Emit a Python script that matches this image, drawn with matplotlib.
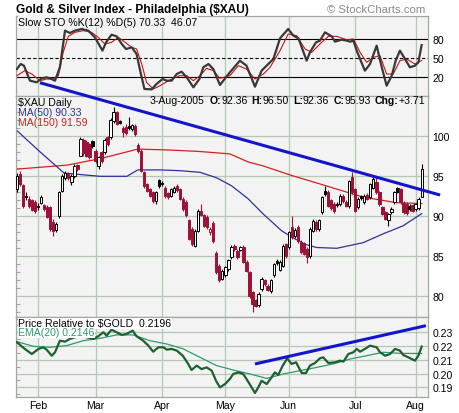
import matplotlib
matplotlib.use("Agg")
import matplotlib.pyplot as plt
from matplotlib.patches import Rectangle
from matplotlib.ticker import MultipleLocator, FixedLocator

plt.rcParams['font.family'] = ['Liberation Sans', 'DejaVu Sans']

# ---------------- data ----------------
month_labels = ['Feb', 'Mar', 'Apr', 'May', 'Jun', 'Jul', 'Aug']
month_days = [7, 26, 48, 69, 90, 112, 132]   # trading-day index of month start

opens = [93.4, 95.3, 93.9, 92.5, 92.2, 92.0, 91.8, 91.2, 91.7, 91.4,
         91.1, 91.1, 89.3, 88.3, 90.0, 93.2, 94.8, 95.4, 94.3, 95.0,
         96.4, 97.6, 99.6, 99.3, 99.0, 99.4, 98.2, 96.3, 98.0, 98.0,
         99.9, 99.9, 101.9, 103.0, 101.9, 101.1, 101.2, 101.3, 100.9, 101.3,
         98.9, 98.2, 95.5, 94.0, 93.4, 93.0, 91.9, 94.5, 94.2, 93.6,
         92.9, 92.6, 93.1, 93.8, 93.4, 92.2, 91.8, 89.5, 88.4, 86.3,
         88.2, 90.7, 90.1, 89.9, 88.0, 89.2, 85.4, 83.8, 82.2, 82.6,
         83.4, 84.9, 86.3, 85.7, 85.8, 86.2, 84.3, 83.0, 80.5, 79.5,
         78.9, 80.9, 82.0, 81.3, 80.6, 82.6, 84.4, 83.3, 83.8, 86.5,
         86.1, 88.6, 87.5, 88.7, 86.8, 86.6, 85.9, 85.0, 88.2, 89.3,
         88.4, 90.5, 93.2, 93.1, 92.0, 91.6, 91.6, 91.5, 92.6, 91.8,
         91.3, 94.9, 93.4, 91.1, 92.5, 91.8, 92.7, 92.4, 93.6, 94.3,
         93.0, 91.1, 90.5, 89.5, 90.5, 91.8, 93.5, 93.4, 91.7, 91.6,
         91.3, 91.4, 90.9, 91.0, 92.36]
highs = [95.4, 95.7, 94.1, 93.0, 92.5, 92.2, 92.0, 91.7, 92.7, 91.6,
         91.4, 91.3, 89.6, 89.3, 93.2, 95.3, 95.7, 95.6, 95.3, 96.5,
         96.6, 99.9, 99.8, 99.5, 99.2, 99.6, 98.4, 97.6, 98.2, 99.8,
         100.1, 102.3, 103.7, 103.2, 102.1, 101.3, 101.5, 102.4, 101.6, 101.5,
         99.2, 98.4, 95.7, 94.2, 93.6, 93.2, 93.2, 94.7, 94.4, 93.8,
         93.1, 93.6, 93.8, 94.0, 93.6, 92.4, 92.0, 89.7, 88.6, 88.4,
         90.9, 91.5, 90.3, 90.1, 88.6, 89.4, 85.6, 84.0, 83.4, 83.8,
         84.7, 86.4, 86.5, 85.9, 86.3, 86.4, 84.5, 83.2, 80.7, 79.7,
         80.5, 82.4, 82.2, 81.5, 82.2, 84.2, 84.6, 84.5, 86.5, 86.7,
         88.2, 90.0, 88.5, 88.9, 87.0, 86.8, 86.1, 88.6, 89.6, 89.5,
         89.7, 92.6, 93.8, 93.3, 92.2, 91.8, 91.8, 92.8, 92.8, 92.0,
         94.6, 95.5, 93.6, 92.4, 92.7, 92.8, 92.9, 94.2, 95.0, 94.9,
         93.2, 91.3, 90.7, 90.4, 91.1, 93.2, 93.7, 93.6, 91.9, 91.8,
         91.5, 91.6, 91.7, 92.4, 96.50]
lows = [93.0, 93.8, 91.0, 92.0, 91.0, 90.6, 90.4, 90.8, 91.5, 90.7,
        89.8, 88.2, 87.5, 88.0, 89.8, 93.0, 94.5, 94.5, 93.9, 94.8,
        95.7, 97.5, 97.5, 97.4, 97.2, 98.6, 96.7, 95.9, 96.7, 97.8,
        98.8, 99.7, 101.7, 101.4, 101.5, 99.9, 100.2, 100.8, 100.7, 100.1,
        97.9, 95.5, 93.6, 93.0, 92.4, 91.7, 91.6, 93.6, 93.8, 92.3,
        92.2, 92.4, 92.9, 93.1, 92.0, 90.7, 89.9, 87.0, 86.3, 86.1,
        88.0, 90.0, 88.6, 88.4, 87.7, 86.7, 82.8, 81.8, 82.0, 82.4,
        83.2, 84.7, 85.7, 84.7, 85.6, 84.1, 83.0, 79.8, 78.0, 78.6,
        78.7, 80.7, 81.3, 80.6, 80.4, 82.4, 83.9, 83.1, 83.6, 84.8,
        85.9, 87.2, 87.3, 86.7, 85.3, 85.1, 84.2, 84.8, 88.0, 88.2,
        88.2, 90.3, 92.5, 91.1, 90.8, 90.4, 91.2, 91.3, 91.7, 91.1,
        91.0, 92.8, 90.5, 90.9, 92.1, 91.6, 92.0, 92.2, 93.4, 92.8,
        91.3, 90.1, 89.5, 88.8, 90.3, 91.6, 92.9, 91.6, 90.3, 90.2,
        90.7, 90.5, 90.7, 90.8, 92.36]
closes = [95.0, 94.0, 91.3, 92.4, 91.3, 90.8, 90.6, 91.3, 92.4, 90.9,
          89.9, 88.4, 88.2, 89.0, 93.0, 95.0, 95.4, 94.8, 95.1, 96.3,
          95.9, 99.7, 97.9, 97.6, 97.4, 98.8, 96.9, 97.4, 96.9, 99.6,
          99.0, 102.1, 103.0, 101.6, 101.7, 100.5, 100.4, 101.0, 101.4, 100.3,
          98.2, 95.7, 93.8, 93.2, 92.6, 91.9, 93.0, 93.8, 94.0, 92.5,
          92.4, 93.4, 93.6, 93.3, 92.2, 90.9, 90.1, 87.2, 86.5, 88.2,
          90.7, 90.2, 88.8, 88.6, 88.4, 86.9, 83.0, 82.0, 83.2, 83.6,
          84.5, 86.2, 85.9, 84.9, 86.1, 84.3, 83.2, 80.0, 79.0, 78.8,
          80.3, 82.2, 81.5, 80.8, 82.0, 84.0, 84.1, 84.3, 86.3, 85.0,
          88.0, 87.4, 88.3, 86.9, 85.5, 85.3, 84.9, 88.4, 89.4, 88.4,
          89.5, 92.4, 92.8, 91.3, 91.0, 90.6, 91.4, 92.6, 91.9, 91.3,
          94.4, 93.0, 90.7, 92.2, 92.3, 92.6, 92.2, 94.0, 94.7, 93.0,
          91.5, 90.3, 89.7, 90.3, 90.9, 93.0, 93.1, 91.8, 90.5, 90.4,
          90.9, 90.7, 91.5, 92.22, 95.93]

ma50_days = [0, 7.8, 15.6, 27.5, 36.4, 40, 47.4, 54, 60.6, 66.2, 71.1,
             76.5, 81.5, 87.6, 91, 95.4, 99.2, 105.9, 114.6, 121.2, 127.8, 134]
ma50_vals = [100.7, 98.0, 95.4, 95.0, 95.0, 95.8, 95.8, 95.7, 95.5, 94.8, 93.8,
             92.2, 90.3, 88.2, 87.4, 86.5, 86.1, 86.0, 86.7, 87.8, 88.8, 90.33]
ma150_days = [0, 16.6, 27.5, 40, 49.7, 60.6, 70.5, 76.5, 81.5, 91, 100.7,
              114.6, 125.7, 134]
ma150_vals = [95.9, 96.4, 97.2, 98.4, 98.3, 98.1, 97.8, 96.8, 96.3, 95.1, 94.0,
              92.4, 91.7, 91.59]
trend_days = [7.6, 140.1]
trend_vals = [106.7, 92.66]

sto_k_days = [0, 1.2, 2.3, 4.3, 6.5, 8.2, 9.8, 10.9, 12.6, 14.2,
              15.9, 17.5, 19.2, 21.4, 23.6, 25.8, 28.3, 29.5, 31.3, 33.0,
              34.7, 36.1, 38.0, 39.6, 40.9, 42.2, 44.6, 46.2, 48.2, 49.6,
              51.2, 52.9, 54.5, 56.2, 58.4, 60.4, 61.7, 63.4, 65.0, 67.2,
              70.5, 73.8, 76.0, 78.8, 81.0, 83.2, 84.9, 87.1, 89.8, 91.5,
              93.2, 95.9, 97.0, 99.0, 100.3, 102.0, 104.2, 105.3, 107.5, 109.2,
              110.3, 111.4, 112.5, 113.6, 115.2, 116.9, 119.1, 120.8, 122.4, 124.1,
              125.4, 126.8, 128.5, 130.1, 131.8, 132.9, 134]
sto_k_vals = [32.6, 40.5, 37.9, 14.2, 11.6, 17.9, 19.5, 17.9, 14.2, 35.3,
              93.2, 89.5, 93.2, 95.8, 93.2, 82.6, 61.6, 74.7, 86.8, 84.2,
              72.1, 64.2, 66.8, 56.3, 27.4, 1.1, 0.5, 9.0, 16.8, 14.2,
              14.2, 24.7, 28.4, 19.5, 3.7, 16.8, 35.3, 40.5, 32.6, 7.4,
              27.4, 45.8, 37.9, 4.7, 30.0, 40.5, 48.4, 81.1, 95.8, 85.3,
              81.1, 45.8, 58.9, 74.7, 77.4, 90.5, 84.2, 75.8, 78.9, 77.4,
              75.8, 77.4, 61.6, 48.4, 30.0, 40.5, 69.5, 35.3, 6.3, 22.1,
              45.8, 61.6, 48.4, 35.3, 37.9, 43.2, 70.33]
sto_d_days = [0, 2.6, 4.9, 7.6, 9.8, 12.0, 13.7, 15.3, 17.0, 19.2,
              22.0, 24.7, 26.9, 29.1, 31.3, 33.6, 35.8, 38.0, 39.6, 41.3,
              42.9, 45.1, 47.4, 49.6, 51.8, 54.0, 56.2, 58.4, 60.6, 62.8,
              65.0, 67.2, 70.5, 73.3, 76.0, 78.8, 81.6, 83.8, 87.1, 89.8,
              92.6, 95.4, 97.6, 100.3, 103.1, 105.8, 109.2, 111.4, 113.6, 115.8,
              118.0, 120.2, 122.4, 124.6, 126.8, 129.0, 131.8, 134]
sto_d_vals = [22.1, 30.0, 24.7, 14.2, 16.8, 16.8, 22.1, 58.9, 84.2, 90.5,
              93.2, 90.5, 82.6, 72.1, 74.7, 82.6, 74.7, 66.8, 64.2, 40.5,
              11.6, 1.1, 6.3, 12.6, 17.9, 22.1, 22.1, 14.2, 22.1, 33.7,
              30.0, 17.9, 22.1, 37.9, 32.6, 16.8, 24.7, 35.3, 61.6, 87.9,
              85.3, 64.2, 58.9, 72.1, 84.2, 84.2, 78.9, 80.0, 58.9, 43.2,
              51.1, 53.7, 24.7, 24.7, 45.8, 48.4, 40.5, 46.07]

rel_days = [0, 2.6, 4.9, 7.1, 8.7, 9.8, 11.5, 12.6, 14.2, 15.9,
            17.5, 19.2, 21.0, 23.1, 25.3, 26.9, 28.6, 29.7, 31.3, 33.0,
            34.7, 36.3, 38.3, 39.6, 41.8, 43.5, 45.1, 46.8, 48.5, 49.6,
            51.2, 52.9, 54.9, 56.7, 57.8, 59.5, 61.1, 62.8, 64.5, 65.9,
            67.2, 68.9, 70.5, 71.6, 73.3, 74.9, 76.0, 77.7, 78.8, 79.9,
            81.0, 82.7, 84.3, 85.4, 86.5, 88.0, 89.5, 90.9, 92.4, 94.3,
            95.7, 97.0, 98.7, 100.3, 101.4, 103.1, 105.3, 107.0, 108.1, 109.7,
            111.4, 112.5, 113.6, 115.2, 116.9, 119.1, 120.2, 121.9, 123.5, 125.2,
            126.8, 127.9, 129.6, 131.8, 132.9, 134]
rel_vals = [0.2227, 0.2179, 0.2142, 0.2179, 0.2191, 0.2174, 0.2130, 0.2155, 0.2239, 0.2232,
            0.2252, 0.2264, 0.2271, 0.2264, 0.2252, 0.2271, 0.2300, 0.2276, 0.2319, 0.2300,
            0.2281, 0.2288, 0.2312, 0.2271, 0.2239, 0.2203, 0.2159, 0.2191, 0.2191, 0.2174,
            0.2179, 0.2167, 0.2130, 0.2070, 0.2026, 0.2058, 0.2033, 0.2045, 0.2021, 0.1948,
            0.1900, 0.1924, 0.1961, 0.1997, 0.2009, 0.1997, 0.1961, 0.1900, 0.1859, 0.1900,
            0.1948, 0.1924, 0.1973, 0.2009, 0.1990, 0.2058, 0.2111, 0.2070, 0.2082, 0.2004,
            0.2004, 0.2058, 0.2077, 0.2111, 0.2118, 0.2077, 0.2082, 0.2094, 0.2087, 0.2142,
            0.2155, 0.2179, 0.2159, 0.2179, 0.2203, 0.2191, 0.2155, 0.2130, 0.2142, 0.2179,
            0.2167, 0.2135, 0.2118, 0.2094, 0.2130, 0.2196]
ema_days = [0, 5.4, 10.9, 16.4, 22.0, 27.5, 33.0, 38.5, 44.0, 49.6, 55.1, 60.6, 66.1,
            71.6, 77.2, 82.7, 88.2, 93.7, 99.2, 104.7, 110.3, 115.8, 121.3, 126.8, 134]
ema_vals = [0.2232, 0.2198, 0.2191, 0.2203, 0.2239, 0.2256, 0.2281, 0.2281, 0.2239, 0.2215,
            0.2179, 0.2118, 0.2058, 0.2026, 0.1997, 0.1965, 0.1997, 0.2021, 0.2045, 0.2070,
            0.2106, 0.2130, 0.2155, 0.2147, 0.2146]
rel_trend_days = [78.8, 135.4]
rel_trend_vals = [0.2070, 0.2348]

price_ticks = [80, 85, 90, 95, 100]
sto_ticks = [20, 50, 80]
rel_ticks = [0.19, 0.20, 0.21, 0.22, 0.23]

# ---------------- styling ----------------
W, H = 460, 414
BG = '#f3f3f3'
GRID = '#b4c8b4'
SPINE = '#a0a8a0'
CRED = '#9e1238'
FS = 7.6

fig = plt.figure(figsize=(W / 100, H / 100), dpi=100)
fig.patch.set_facecolor('white')


def px_axes(left, top, right, bottom):
    return fig.add_axes([left / W, 1 - bottom / H, (right - left) / W, (bottom - top) / H])


ax_sto = px_axes(16, 17, 428, 97)
ax_main = px_axes(16, 97, 428, 318)
ax_rel = px_axes(16, 318, 428, 398)

for ax in (ax_sto, ax_main, ax_rel):
    ax.set_facecolor(BG)
    ax.set_xlim(-0.33, 136.1)
    for s in ax.spines.values():
        s.set_color(SPINE)
        s.set_linewidth(0.9)
    for d in month_days:
        ax.axvline(d, color=GRID, lw=0.9, zorder=0.5)
    ax.tick_params(axis='x', which='both', length=0, labelbottom=False)
    ax.yaxis.tick_right()
    ax.tick_params(axis='y', which='major', labelsize=FS, pad=3, length=0, labelright=True)

# ---- STO panel
ax_sto.set_ylim(-10.0, 116.3)
ax_sto.yaxis.set_major_locator(FixedLocator(sto_ticks))
ax_sto.set_yticklabels([str(t) for t in sto_ticks])
ax_sto.axhline(80, color='black', lw=0.8, zorder=1)
ax_sto.axhline(20, color='black', lw=0.8, zorder=1)
ax_sto.axhline(50, color='black', lw=0.8, ls=(0, (3, 2)), zorder=1)
ax_sto.plot(sto_d_days, sto_d_vals, color='#d01010', lw=0.8, zorder=3)
ax_sto.plot(sto_k_days, sto_k_vals, color='#383838', lw=1.6, zorder=4)
ax_sto.text(0.006, 0.99, 'Slow STO %K(12) %D(5) 70.33  46.07', transform=ax_sto.transAxes,
            ha='left', va='top', fontsize=FS, color='black', zorder=6,
            bbox=dict(facecolor=BG, edgecolor='none', pad=0.3))

# ---- main panel
ax_main.set_ylim(77.41, 105.04)
ax_main.yaxis.set_major_locator(FixedLocator(price_ticks))
ax_main.set_yticklabels([str(t) for t in price_ticks])
ax_main.yaxis.set_minor_locator(MultipleLocator(1))
ax_main.tick_params(axis='y', which='minor', left=True, right=False, direction='in',
                    length=3, color=SPINE, width=0.8)
for t in price_ticks:
    ax_main.axhline(t, color=GRID, lw=0.9, zorder=0.5)

ax_main.plot(ma150_days, ma150_vals, color='#d42020', lw=0.9, zorder=2)
ax_main.plot(ma50_days, ma50_vals, color='#30309a', lw=0.9, zorder=2)

prev = None
for i, (o, h, l, c) in enumerate(zip(opens, highs, lows, closes)):
    col = 'black' if (prev is None or c >= prev) else CRED
    hollow = c >= o
    ax_main.vlines(i, l, h, color=col, lw=0.8, zorder=3)
    bot = min(o, c)
    hgt = max(abs(c - o), 0.08)
    ax_main.add_patch(Rectangle((i - 0.38, bot), 0.76, hgt,
                                facecolor=('white' if hollow else col), edgecolor=col,
                                lw=0.7, zorder=4))
    prev = c

ax_main.plot(trend_days, trend_vals, color='#1414cc', lw=2.2, zorder=10,
             clip_on=False, solid_capstyle='butt')

lbl = dict(transform=ax_main.transAxes, ha='left', va='top', fontsize=FS, zorder=8)
ax_main.text(0.006, 0.995, '$XAU Daily', color='black', **lbl)
ax_main.text(0.006, 0.95, 'MA(50) 90.33', color='#30309a', **lbl)
ax_main.text(0.006, 0.905, 'MA(150) 91.59', color='#d42020', **lbl)

# ---- relative panel
ax_rel.set_ylim(0.1830, 0.2411)
ax_rel.yaxis.set_major_locator(FixedLocator(rel_ticks))
ax_rel.set_yticklabels(['%.2f' % t for t in rel_ticks])
ax_rel.yaxis.set_minor_locator(MultipleLocator(0.005))
ax_rel.tick_params(axis='y', which='minor', left=True, right=False, direction='in',
                   length=3, color=SPINE, width=0.8)
for t in rel_ticks:
    ax_rel.axhline(t, color=GRID, lw=0.9, zorder=0.5)
ax_rel.plot(ema_days, ema_vals, color='#2e9a70', lw=0.9, zorder=3)
ax_rel.plot(rel_days, rel_vals, color='#1e6030', lw=1.6, zorder=4)
ax_rel.plot(rel_trend_days, rel_trend_vals, color='#1414cc', lw=2.2, zorder=10,
            clip_on=False, solid_capstyle='butt')
ax_rel.text(0.006, 0.985, 'Price Relative to $GOLD  0.2196', transform=ax_rel.transAxes,
            ha='left', va='top', fontsize=FS, color='black', zorder=8,
            bbox=dict(facecolor='white', edgecolor='none', pad=0.2))
ax_rel.text(0.006, 0.87, 'EMA(20) 0.2146', transform=ax_rel.transAxes,
            ha='left', va='top', fontsize=FS, color='#2e9a70', zorder=8,
            bbox=dict(facecolor='white', edgecolor='none', pad=0.2))

ax_rel.set_xticks(month_days)
ax_rel.set_xticklabels(month_labels)
ax_rel.tick_params(axis='x', which='major', labelbottom=True, labelsize=FS, pad=2.5, length=0)

# ---- titles
fig.text(16 / W, 1 - 10 / H, 'Gold & Silver Index - Philadelphia ($XAU)', ha='left',
         va='center', fontsize=8.6, fontweight='bold', color='black')
fig.text(425 / W, 1 - 10 / H, '\u00a9 StockCharts.com', ha='right', va='center',
         fontsize=8.2, color='#8a8a8a')

# date header with bold keys, right aligned at x=425 px
pieces = [('3-Aug-2005', 'normal', 0), ('O:', 'bold', 5), ('92.36', 'normal', 0),
          ('H:', 'bold', 4), ('96.50', 'normal', 0), ('L:', 'bold', 4),
          ('92.36', 'normal', 0), ('C:', 'bold', 4), ('95.93', 'normal', 0),
          ('Chg:', 'bold', 4), ('+3.71', 'normal', 0)]
renderer = fig.canvas.get_renderer()
objs = []
x = 0.0
for s, wgt, gap in pieces:
    x += gap
    t = fig.text(0, 1 - 101.5 / H, s, ha='left', va='center', fontsize=FS,
                 fontweight=wgt, color='black', zorder=9)
    w = t.get_window_extent(renderer=renderer).width
    objs.append((t, x))
    x += w
start = 425 - x
for t, off in objs:
    t.set_x((start + off) / W)

fig.savefig('out.png', dpi=100, facecolor='white')
